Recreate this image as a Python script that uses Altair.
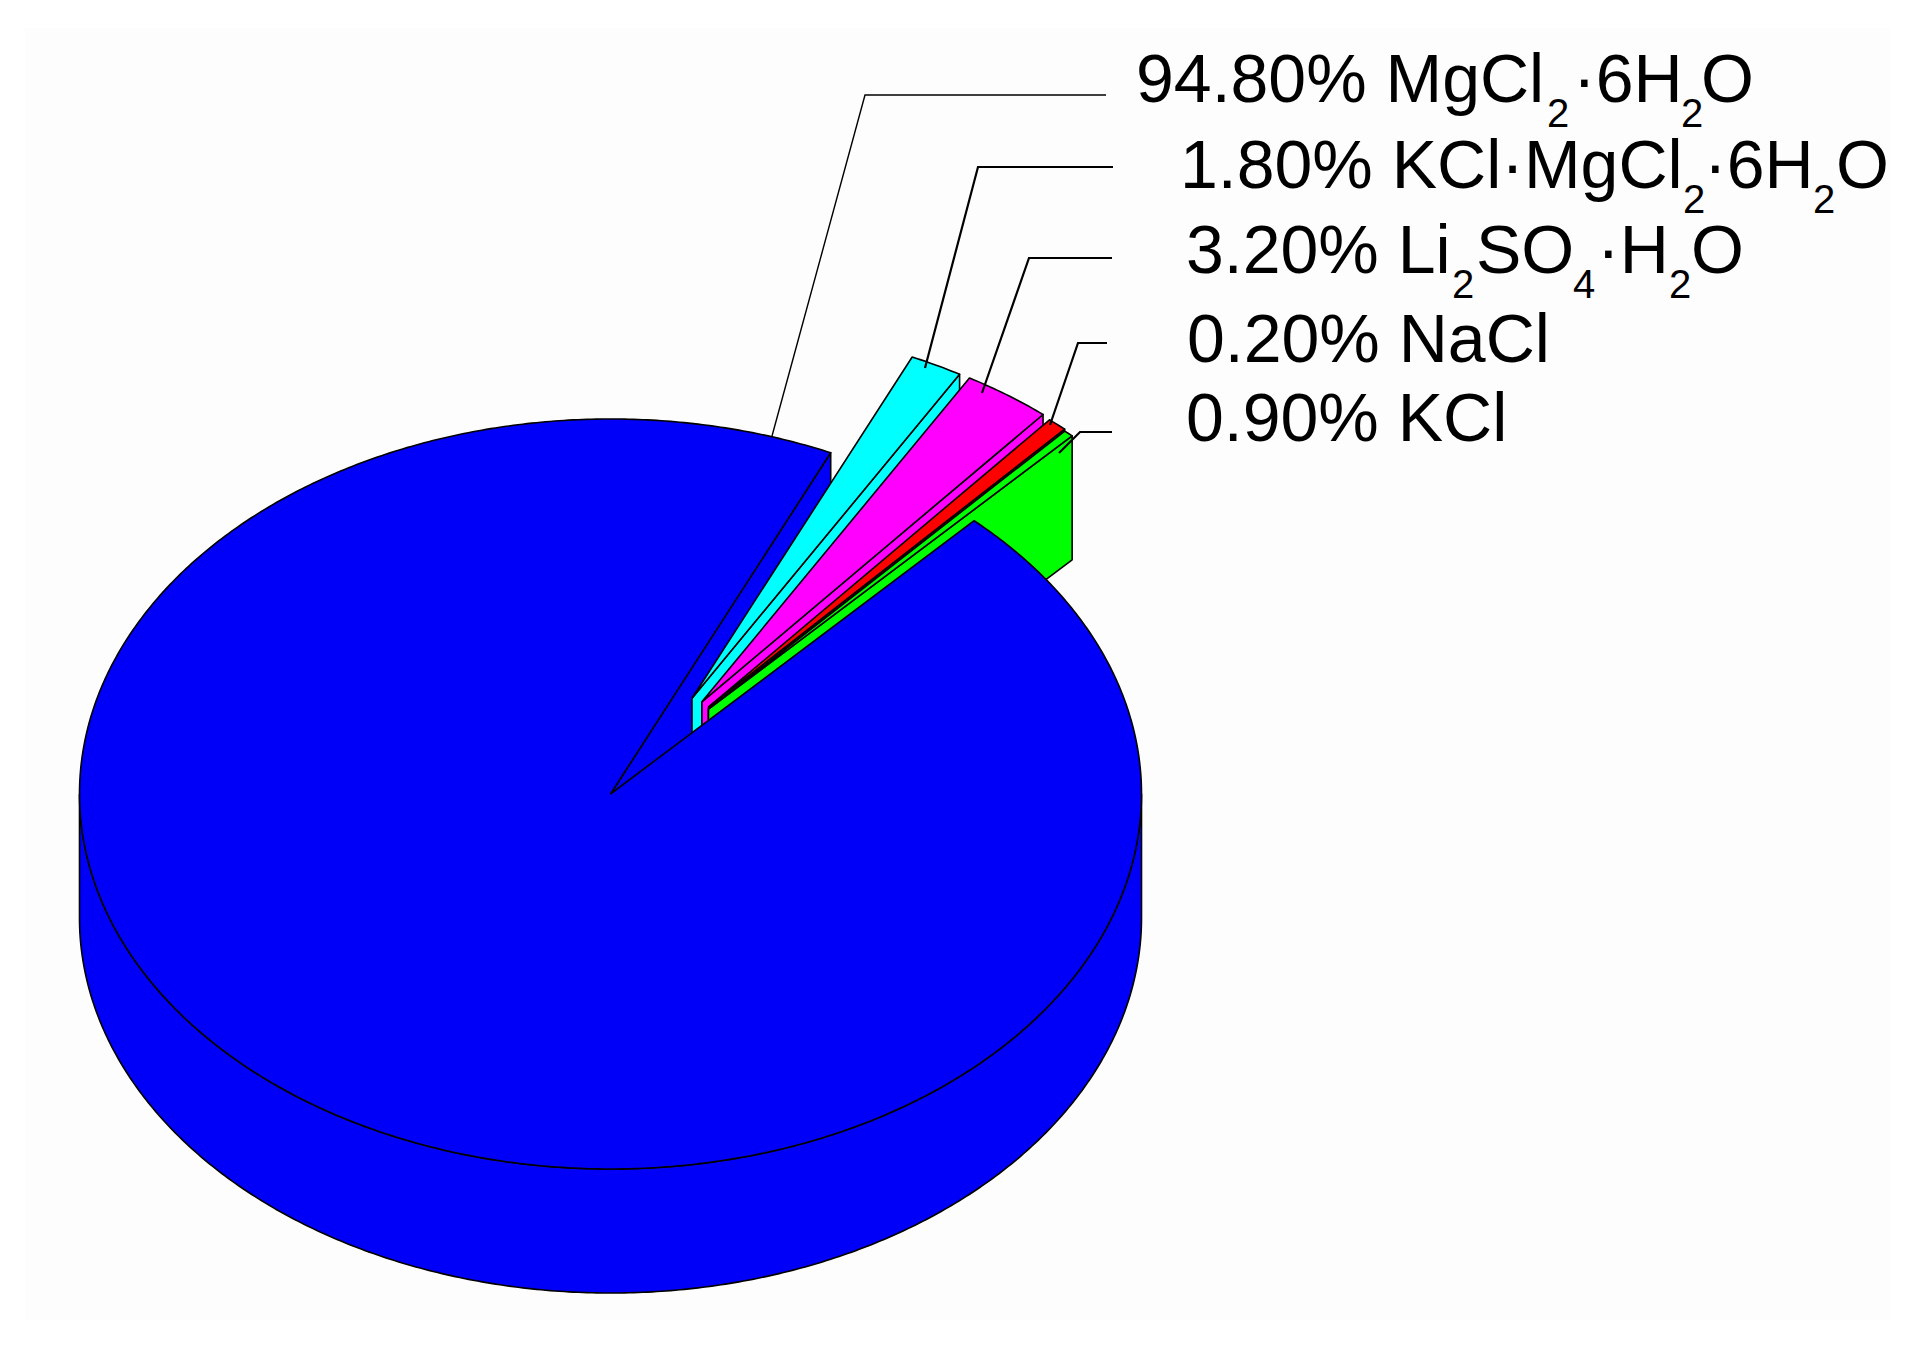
import math
import altair as alt
import pandas as pd

# Slice shares as drawn in the picture (percent of the circle), clockwise from the main slice
slice_names = ["MgCl2·6H2O", "KCl·MgCl2·6H2O", "Li2SO4·H2O", "NaCl", "KCl"]
slice_shares = [94.8, 1.6, 2.7, 0.6, 0.3]
slice_colors = ["#0000f8", "#00ffff", "#ff00ff", "#ff0000", "#00ff00"]
explode_frac = [0.0, 0.298, 0.300, 0.296, 0.292]
explode_dir = [0.0, 59.0, 55.0, 51.5, 50.8]

# Label fragments: (text, x, baseline y, font size)
BIG, SUB = 68, 40
label_parts = [
    ("94.80% MgCl", 1136, 102, BIG), ("2", 1547, 127, SUB), ("·6H", 1573, 102, BIG), ("2", 1681, 127, SUB), ("O", 1701, 102, BIG),
    ("1.80% KCl·MgCl", 1180, 188, BIG), ("2", 1683, 213, SUB), ("·6H", 1704, 188, BIG), ("2", 1813, 213, SUB), ("O", 1836, 188, BIG),
    ("3.20% Li", 1186, 273, BIG), ("2", 1452, 298, SUB), ("SO", 1476, 273, BIG), ("4", 1573, 298, SUB), ("·H", 1597, 273, BIG), ("2", 1669, 298, SUB), ("O", 1691, 273, BIG),
    ("0.20% NaCl", 1187, 362, BIG),
    ("0.90% KCl", 1186, 441, BIG),
]

# Leader lines: (width, points)
leaders = [
    (1.4, [(772, 436), (865, 95), (1106, 95)]),
    (2.2, [(925, 368), (978, 167), (1113, 167)]),
    (2.2, [(982, 393), (1029, 258), (1112, 258)]),
    (2.2, [(1050, 425), (1078, 343), (1107, 343)]),
    (2.2, [(1059, 453), (1080, 432), (1112, 432)]),
]

CX, CY, RX, RY, DEPTH = 610.5, 794.0, 531.0, 375.0, 124.0
START = 65.5
W, H = 1909, 1333
STROKE = 1.6

xs = alt.Scale(domain=[8, 8 + W], nice=False, zero=False)
ys = alt.Scale(domain=[8 + H, 8], nice=False, zero=False)


def ell(a, ox=0.0, oy=0.0):
    r = math.radians(a)
    return (CX + ox + RX * math.cos(r), CY + oy - RY * math.sin(r))


def arc(a0, a1, ox=0.0, oy=0.0):
    n = max(2, int(abs(a1 - a0) * 2))
    return [ell(a0 + (a1 - a0) * i / n, ox, oy) for i in range(n + 1)]


def polygon(pts, fill, width=STROKE):
    closed = list(pts) + [pts[0]]
    df = pd.DataFrame({"x": [p[0] for p in closed], "y": [p[1] for p in closed], "i": range(len(closed))})
    return alt.Chart(df).mark_line(fill=fill, stroke="black", strokeWidth=width, strokeJoin="round").encode(
        x=alt.X("x:Q", scale=xs, axis=None),
        y=alt.Y("y:Q", scale=ys, axis=None),
        order=alt.Order("i:Q"),
    )


layers = []

# faint paper tone of the original image
paper = pd.DataFrame({"x": [25], "x2": [1890], "y": [28], "y2": [1320]})
layers.append(
    alt.Chart(paper).mark_rect(color="#fdfdfd").encode(
        x=alt.X("x:Q", scale=xs, axis=None), x2="x2:Q",
        y=alt.Y("y:Q", scale=ys, axis=None), y2="y2:Q",
    )
)

# main slice: walls behind the wedges
main_end = START + slice_shares[0] / 100 * 360
blue = slice_colors[0]
ou = ell(START)
layers.append(polygon([(CX, CY), ou, (ou[0], ou[1] + DEPTH), (CX, CY + DEPTH)], blue))
side = arc(180, 360) + arc(360, 180, 0, DEPTH)
layers.append(polygon(side, blue))

# exploded wedges, back to front
a = START
for k in range(1, len(slice_shares)):
    a0 = a
    a1 = a - slice_shares[k] / 100 * 360
    a = a1
    d = math.radians(explode_dir[k])
    ox = RX * explode_frac[k] * math.cos(d)
    oy = -RY * explode_frac[k] * math.sin(d)
    tip = (CX + ox, CY + oy)
    end = ell(a1, ox, oy)
    layers.append(polygon([tip, end, (end[0], end[1] + DEPTH), (tip[0], tip[1] + DEPTH)], slice_colors[k]))
    layers.append(polygon([tip] + arc(a0, a1, ox, oy), slice_colors[k]))

# main slice: top face
layers.append(polygon([(CX, CY)] + arc(START, main_end), blue))

# leader lines
for width, pts in leaders:
    df = pd.DataFrame({"x": [p[0] for p in pts], "y": [p[1] for p in pts], "i": range(len(pts))})
    layers.append(
        alt.Chart(df).mark_line(color="black", strokeWidth=width).encode(
            x=alt.X("x:Q", scale=xs, axis=None),
            y=alt.Y("y:Q", scale=ys, axis=None),
            order=alt.Order("i:Q"),
        )
    )

# labels
labels = pd.DataFrame(label_parts, columns=["text", "x", "y", "size"])
layers.append(
    alt.Chart(labels).mark_text(align="left", baseline="alphabetic", font="Liberation Sans", color="black").encode(
        x=alt.X("x:Q", scale=xs, axis=None),
        y=alt.Y("y:Q", scale=ys, axis=None),
        text="text:N",
        size=alt.Size("size:Q", scale=None, legend=None),
    )
)

chart = (
    alt.layer(*layers)
    .properties(width=W, height=H, padding=0, background="white")
    .configure_view(stroke=None)
)
chart.save("out.html", embed_options={"renderer": "svg", "actions": False})
